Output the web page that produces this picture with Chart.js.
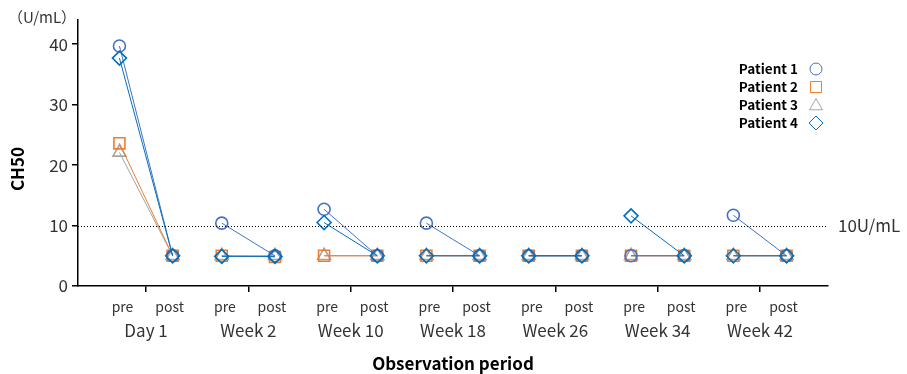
<!DOCTYPE html>
<html>
<head>
<meta charset="utf-8">
<script src="https://cdn.jsdelivr.net/npm/chart.js@4.4.0/dist/chart.umd.min.js"></script>
<style>
html,body{margin:0;padding:0;background:#fff;}
#wrap{width:907px;height:374px;position:relative;}
</style>
</head>
<body>
<div id="wrap"><canvas id="c" width="907" height="374"></canvas></div>
<script>
const groups = ['Day 1', 'Week 2', 'Week 10', 'Week 18', 'Week 26', 'Week 34', 'Week 42'];
const phaseLabels = ['pre', 'post'];
const yTicks = [0, 10, 20, 30, 40];
const threshold = 10;
const thresholdLabel = '10U/mL';
const unitLabel = '（U/mL）';
const patients = ['Patient 1', 'Patient 2', 'Patient 3', 'Patient 4'];
const p1Pre  = [39.7, 10.4, 12.7, 10.4, 5.0, 5.0, 11.7];
const p1Post = [5.0, 5.0, 5.0, 5.0, 5.0, 5.0, 5.0];
const p2Pre  = [23.6, 5.0, 5.0, 5.0, 5.0, 5.0, 5.0];
const p2Post = [5.0, 4.8, 5.0, 5.0, 5.0, 5.0, 5.0];
const p3Pre  = [22.1, 5.0, 5.0, 5.0, 5.0, 5.0, 5.0];
const p3Post = [5.0, 5.0, 5.0, 5.0, 5.0, 5.0, 5.0];
const p4Pre  = [37.7, 4.9, 10.5, 5.0, 5.0, 11.6, 5.0];
const p4Post = [5.0, 4.9, 5.0, 5.0, 5.0, 5.0, 5.0];

const FONT = '"Noto Sans CJK JP", "Noto Sans", sans-serif';
const OFF = 0.26;
const colors = ['#4472C4', '#ED7D31', '#A5A5A5', '#0070C0'];
const styles = ['circle', 'rect', 'triangle', 'rectRot'];
const radii = [6, 7.8, 7.5, 7];

function build(pre, post) {
  const out = [];
  groups.forEach((g, i) => {
    out.push({x: i - OFF, y: pre[i]});
    out.push({x: i + OFF, y: post[i]});
    out.push({x: i + 0.5, y: null});
  });
  return out;
}
const series = [[p1Pre, p1Post], [p2Pre, p2Post], [p3Pre, p3Post], [p4Pre, p4Post]];
const orders = [1, 2, 3, 0];
const datasets = series.map((s, k) => ({
  label: patients[k],
  data: build(s[0], s[1]),
  borderColor: colors[k],
  backgroundColor: 'rgba(0,0,0,0)',
  pointBorderColor: colors[k],
  pointBackgroundColor: 'rgba(0,0,0,0)',
  pointStyle: styles[k],
  pointRadius: radii[k],
  pointBorderWidth: 1.6,
  borderWidth: 1,
  spanGaps: false,
  order: orders[k],
  showLine: true
}));

const phaseTicks = [];
groups.forEach((g, i) => { phaseTicks.push({value: i - 0.23, label: phaseLabels[0]}); phaseTicks.push({value: i + 0.23, label: phaseLabels[1]}); });

const overlay = {
  id: 'overlay',
  afterDatasetsDraw(chart) {
    const ctx = chart.ctx, ca = chart.chartArea, y = chart.scales.y;
    const yy = Math.round(y.getPixelForValue(threshold)) + 0.5;
    ctx.save();
    ctx.strokeStyle = '#000';
    ctx.lineWidth = 1;
    ctx.setLineDash([1, 2]);
    ctx.beginPath(); ctx.moveTo(ca.left, yy); ctx.lineTo(ca.right, yy); ctx.stroke();
    ctx.setLineDash([]);
    ctx.fillStyle = '#333';
    ctx.font = '17px ' + FONT;
    ctx.textAlign = 'left'; ctx.textBaseline = 'middle';
    ctx.fillText(thresholdLabel, ca.right + 10, yy - 1);
    // unit
    ctx.font = '15px ' + FONT;
    ctx.textAlign = 'center';
    ctx.fillText(unitLabel, 42, 17);
    // y title
    ctx.save();
    ctx.translate(18, 169);
    ctx.rotate(-Math.PI / 2);
    ctx.font = 'bold 17px ' + FONT;
    ctx.fillStyle = '#000';
    ctx.fillText('CH50', 0, 0);
    ctx.restore();
    // legend
    ctx.font = 'bold 13.5px ' + FONT;
    ctx.textAlign = 'right';
    ctx.fillStyle = '#000';
    patients.forEach((p, k) => {
      const ly = 69 + k * 18;
      ctx.fillText(p, 798, ly);
      ctx.strokeStyle = colors[k];
      ctx.fillStyle = 'rgba(0,0,0,0)';
      Chart.helpers.drawPoint(ctx, {pointStyle: styles[k], radius: radii[k], borderWidth: 1.6, rotation: 0}, 816, ly + (k === 2 ? 1 : 0));
      ctx.fillStyle = '#000';
    });
    ctx.restore();
  }
};

new Chart(document.getElementById('c'), {
  type: 'scatter',
  data: {datasets},
  plugins: [overlay],
  options: {
    responsive: false,
    animation: false,
    layout: {padding: {left: 0, top: 20, right: 79, bottom: 0}},
    plugins: {legend: {display: false}, tooltip: {enabled: false}},
    scales: {
      x: {
        type: 'linear', position: 'bottom',
        min: -0.665, max: groups.length - 1 + 0.665,
        afterBuildTicks(s) { s.ticks = phaseTicks.concat(groups.map((g, i) => ({value: i, label: ''}))).sort((a, b) => a.value - b.value); },
        afterFit(s) { s.height = 30; },
        border: {display: true, color: '#000', width: 1.5},
        grid: {drawOnChartArea: false, drawTicks: true, tickLength: 6,
          color: (c) => (c.tick && Math.abs(c.tick.value - Math.round(c.tick.value)) < 1e-6) ? '#000' : 'rgba(0,0,0,0)',
          lineWidth: 1.5},
        ticks: {
          autoSkip: false, maxRotation: 0, padding: 6,
          color: '#333', font: {family: FONT, size: 14},
          callback: function(v, i, t) { return t[i].label; }
        }
      },
      x2: {
        type: 'linear', position: 'bottom',
        min: -0.665, max: groups.length - 1 + 0.665,
        afterBuildTicks(s) { s.ticks = groups.map((g, i) => ({value: i, label: g})); },
        afterFit(s) { s.height = 58; },
        border: {display: false},
        grid: {display: false, drawTicks: false, tickLength: 0},
        ticks: {
          autoSkip: false, maxRotation: 0, padding: 4,
          color: '#333', font: {family: FONT, size: 17},
          callback: function(v, i, t) { return t[i].label; }
        },
        title: {display: true, text: 'Observation period', color: '#000',
          font: {family: FONT, size: 17, weight: 'bold'}, padding: {top: 6, bottom: 0}}
      },
      y: {
        min: 0, max: 44,
        afterBuildTicks(s) { s.ticks = yTicks.map(v => ({value: v})); },
        afterFit(s) { s.width = 78; },
        border: {display: true, color: '#000', width: 1.5},
        grid: {drawOnChartArea: false, drawTicks: true, tickLength: 6, color: '#000', lineWidth: 1.5},
        ticks: {padding: 4, color: '#333', font: {family: FONT, size: 17}}
      }
    }
  }
});
</script>
</body>
</html>
